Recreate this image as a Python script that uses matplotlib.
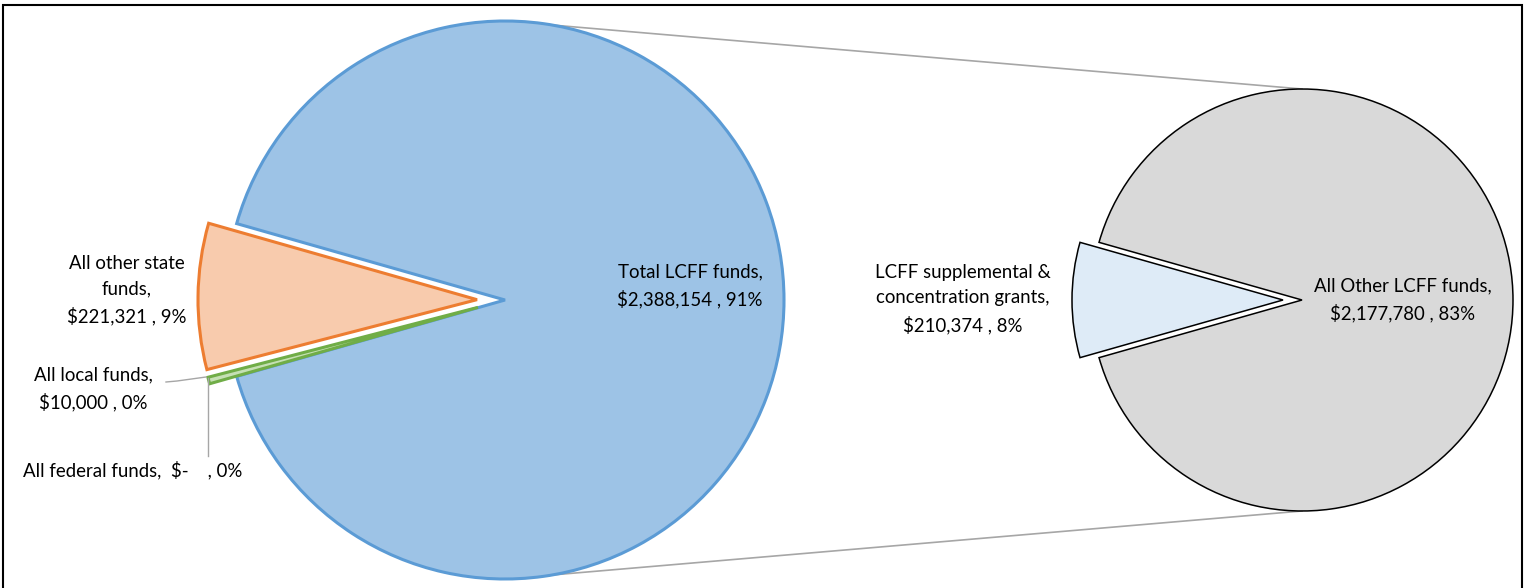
import numpy as np
import matplotlib.pyplot as plt
from matplotlib.patches import Rectangle

# main pie data
main_labels = ["Total LCFF funds", "All other state funds", "All local funds", "All federal funds"]
main_values = [2388154, 221321, 10000, 0]
main_pct = ["91%", "9%", "0%", "0%"]

# breakdown of total LCFF funds
sub_labels = ["All Other LCFF funds", "LCFF supplemental & concentration grants"]
sub_values = [2177780, 210374]
sub_pct = ["83%", "8%"]

plt.rcParams['font.family'] = ['Lato', 'DejaVu Sans']

W, H = 1530, 588
fig = plt.figure(figsize=(W / 100, H / 100), dpi=100)
ax = fig.add_axes([0, 0, 1, 1])

# geometry in pixel units (y up)
c1, r1 = (505, 288), 279
c2, r2 = (1302, 288), 211

frac1 = main_values[0] / sum(main_values)
wedges1, _ = ax.pie(main_values, center=c1, radius=r1,
                    startangle=-frac1 * 180, counterclock=True,
                    explode=[0, 28, 28, 28],
                    colors=["#9DC3E6", "#F8CBAD", "#C5E0B4", "#DDDDDD"],
                    wedgeprops=dict(linewidth=2.2, joinstyle='miter'))
for w, ec in zip(wedges1, ["#5B9BD5", "#ED7D31", "#70AD47", "none"]):
    w.set_edgecolor(ec)

frac2 = sub_values[0] / sum(sub_values)
wedges2, _ = ax.pie(sub_values, center=c2, radius=r2,
                    startangle=-frac2 * 180, counterclock=True,
                    explode=[0, 19],
                    colors=["#D9D9D9", "#DEEBF7"],
                    wedgeprops=dict(linewidth=1.1, edgecolor="black", joinstyle='miter'))

# connector lines between the pies
ax.plot([c1[0], c2[0]], [c1[1] + r1, c2[1] + r2], color="#A6A6A6", lw=1.2, zorder=0)
ax.plot([c1[0], c2[0]], [c1[1] - r1, c2[1] - r2], color="#A6A6A6", lw=1.2, zorder=0)

def money(v):
    return "${:,}".format(v) if v else "$-   "

fs = 13.4
ls = 1.62
ax.text(690, H - 286, f"{main_labels[0]},\n{money(main_values[0])} , {main_pct[0]}",
        ha="center", va="center", fontsize=fs, linespacing=ls)
ax.text(127, H - 290, f"All other state\nfunds,\n{money(main_values[1])} , {main_pct[1]}",
        ha="center", va="center", fontsize=fs, linespacing=ls)
ax.text(93, H - 389, f"{main_labels[2]},\n{money(main_values[2])} , {main_pct[2]}",
        ha="center", va="center", fontsize=fs, linespacing=ls)
ax.text(133, H - 470, f"{main_labels[3]},  {money(main_values[3])} , {main_pct[3]}",
        ha="center", va="center", fontsize=fs)
ax.text(963, H - 299, f"LCFF supplemental &\nconcentration grants,\n{money(sub_values[1])} , {sub_pct[1]}",
        ha="center", va="center", fontsize=fs, linespacing=ls)
ax.text(1403, H - 300, f"{sub_labels[0]},\n{money(sub_values[0])} , {sub_pct[0]}",
        ha="center", va="center", fontsize=fs, linespacing=ls)

# leader lines for the tiny slices
ax.plot([166, 177, 206], [H - 382, H - 381, H - 377], color="#A6A6A6", lw=1.0)
ax.plot([208, 208], [H - 378, H - 456], color="#A6A6A6", lw=1.0)

ax.set_xlim(0, W)
ax.set_ylim(0, H)
ax.set_aspect("equal")
ax.axis("off")

# chart border
fig.patches.append(Rectangle((3 / W, -0.05), 1519 / W, 1.05 - 5 / H, transform=fig.transFigure,
                             fill=False, edgecolor="black", lw=1.5))

fig.savefig("out.png", dpi=100)
